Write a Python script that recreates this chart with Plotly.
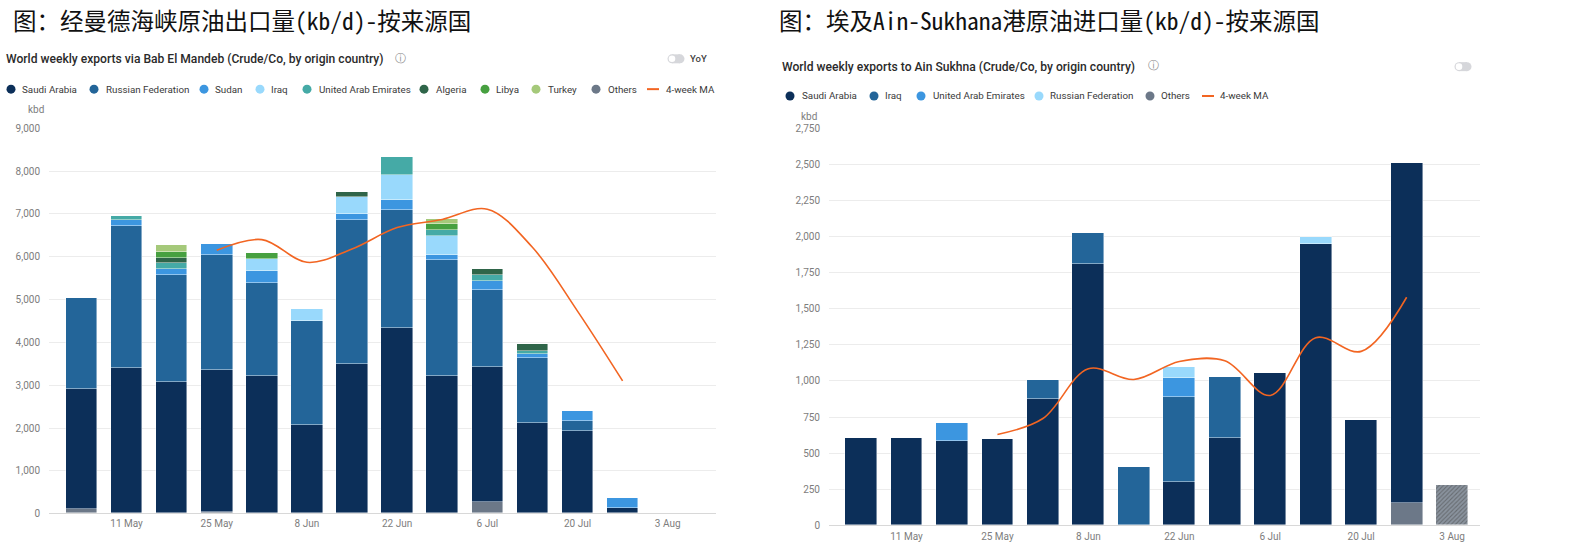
import plotly.graph_objects as go

W, H = 1580, 549

# ---------------- data: left chart (Bab El Mandeb) ----------------
weeks_left = ['2025-05-04', '2025-05-11', '2025-05-18', '2025-05-25', '2025-06-01',
              '2025-06-08', '2025-06-15', '2025-06-22', '2025-06-29', '2025-07-06',
              '2025-07-13', '2025-07-20', '2025-07-27']
others_l = [95, 0, 0, 30, 0, 0, 0, 0, 0, 270, 0, 0, 0]
saudi_l = [2805, 3390, 3080, 3330, 3200, 2060, 3480, 4340, 3200, 3160, 2110, 1920, 120]
russia_l = [2130, 3320, 2490, 2680, 2170, 2440, 3370, 2750, 2710, 1790, 1530, 240, 0]
sudan_l = [0, 130, 140, 245, 280, 0, 140, 230, 130, 200, 90, 230, 235]
iraq_l = [0, 0, 0, 0, 280, 280, 400, 590, 430, 0, 0, 0, 0]
uae_l = [0, 115, 135, 0, 0, 0, 0, 410, 150, 150, 70, 0, 0]
algeria_l = [0, 0, 125, 0, 0, 0, 110, 0, 0, 140, 160, 0, 0]
libya_l = [0, 0, 145, 0, 140, 0, 0, 0, 130, 0, 0, 0, 0]
turkey_l = [0, 0, 155, 0, 0, 0, 0, 0, 120, 0, 0, 0, 0]
ma_dates_l = ['2025-05-25', '2025-06-01', '2025-06-08', '2025-06-15', '2025-06-22',
              '2025-06-29', '2025-07-06', '2025-07-13', '2025-07-20', '2025-07-27']
ma_l = [6150, 6400, 5870, 6180, 6680, 6870, 7110, 6220, 4730, 3100]

# ---------------- data: right chart (Ain Sukhna) ----------------
weeks_right = ['2025-05-04', '2025-05-11', '2025-05-18', '2025-05-25', '2025-06-01',
               '2025-06-08', '2025-06-15', '2025-06-22', '2025-06-29', '2025-07-06',
               '2025-07-13', '2025-07-20', '2025-07-27', '2025-08-03']
others_r = [0, 0, 0, 0, 0, 0, 0, 0, 0, 0, 0, 0, 155, 280]
saudi_r = [605, 605, 580, 595, 870, 1810, 0, 300, 605, 1055, 1945, 730, 2355, 0]
iraq_r = [0, 0, 0, 0, 135, 215, 405, 585, 420, 0, 0, 0, 0, 0]
uae_r = [0, 0, 130, 0, 0, 0, 0, 135, 0, 0, 0, 0, 0, 0]
russia_r = [0, 0, 0, 0, 0, 0, 0, 75, 0, 0, 50, 0, 0, 0]
ma_dates_r = ['2025-05-25', '2025-06-01', '2025-06-08', '2025-06-15', '2025-06-22',
              '2025-06-29', '2025-07-06', '2025-07-13', '2025-07-20', '2025-07-27']
ma_r = [630, 740, 1085, 1010, 1135, 1140, 900, 1300, 1205, 1580]

tick_dates = ['2025-05-11', '2025-05-25', '2025-06-08', '2025-06-22', '2025-07-06',
              '2025-07-20', '2025-08-03']
tick_labels = ['11 May', '25 May', '8 Jun', '22 Jun', '6 Jul', '20 Jul', '3 Aug']

# ---------------- styles ----------------
C_SAUDI = '#0c2f59'
C_MID = '#236599'
C_BRIGHT = '#3c96e0'
C_LIGHT = '#99d9fc'
C_TEAL = '#45aaa6'
C_ALG = '#2f6549'
C_LIBYA = '#47a040'
C_TURKEY = '#a5c97a'
C_OTHERS = '#6c7888'
C_MA = '#f26522'

FONT = 'Roboto, Arial, sans-serif'
CJK = 'Noto Sans Mono CJK SC, Noto Sans CJK SC, sans-serif'
BAR_W = 4.9 * 86400000
LINE = dict(color='rgba(255,255,255,0.55)', width=0.8)


def px_x(v):
    return v / W


def px_y(v):
    return 1 - v / H


def nz(vals):
    return [v if v else None for v in vals]


fig = go.Figure()

left_series = [
    ('Others', others_l, C_OTHERS), ('Saudi Arabia', saudi_l, C_SAUDI),
    ('Russian Federation', russia_l, C_MID), ('Sudan', sudan_l, C_BRIGHT),
    ('Iraq', iraq_l, C_LIGHT), ('United Arab Emirates', uae_l, C_TEAL),
    ('Algeria', algeria_l, C_ALG), ('Libya', libya_l, C_LIBYA), ('Turkey', turkey_l, C_TURKEY),
]
for name, vals, col in left_series:
    fig.add_trace(go.Bar(x=weeks_left, y=nz(vals), name=name, marker_color=col,
                         marker_line=LINE, width=BAR_W, xaxis='x', yaxis='y',
                         showlegend=False))
fig.add_trace(go.Scatter(x=ma_dates_l, y=ma_l, mode='lines', name='4-week MA',
                         line=dict(color=C_MA, width=1.6, shape='spline', smoothing=1.0),
                         xaxis='x', yaxis='y', showlegend=False))

n_r = len(weeks_right)
others_colors = [C_OTHERS] * (n_r - 1) + ['#8a939e']
others_pattern = [''] * (n_r - 1) + ['/']
fig.add_trace(go.Bar(x=weeks_right, y=nz(others_r), name='Others',
                     marker=dict(color=others_colors, line=LINE,
                                 pattern=dict(shape=others_pattern, fgcolor='#6f7a87',
                                              size=3, solidity=0.35)),
                     width=BAR_W, xaxis='x2', yaxis='y2', showlegend=False))
right_series = [
    ('Saudi Arabia', saudi_r, C_SAUDI), ('Iraq', iraq_r, C_MID),
    ('United Arab Emirates', uae_r, C_BRIGHT), ('Russian Federation', russia_r, C_LIGHT),
]
for name, vals, col in right_series:
    fig.add_trace(go.Bar(x=weeks_right, y=nz(vals), name=name, marker_color=col,
                         marker_line=LINE, width=BAR_W, xaxis='x2', yaxis='y2',
                         showlegend=False))
fig.add_trace(go.Scatter(x=ma_dates_r, y=ma_r, mode='lines', name='4-week MA',
                         line=dict(color=C_MA, width=1.6, shape='spline', smoothing=1.0),
                         xaxis='x2', yaxis='y2', showlegend=False))

axis_x_common = dict(type='date', tickvals=tick_dates, ticktext=tick_labels,
                     showgrid=False, zeroline=False, showline=False, ticks='',
                     tickfont=dict(family=FONT, size=10, color='#7d7d7d'), fixedrange=True)
axis_y_common = dict(showgrid=True, gridcolor='#ececec', gridwidth=1, zeroline=True,
                     zerolinecolor='#d8d8d8', zerolinewidth=1, showline=False, ticks='',
                     tickformat=',', ticklabelstandoff=8, fixedrange=True,
                     tickfont=dict(family=FONT, size=10, color='#7d7d7d'))

fig.update_layout(
    width=W, height=H, barmode='stack', bargap=0,
    paper_bgcolor='white', plot_bgcolor='white',
    margin=dict(l=0, r=0, t=0, b=0),
    showlegend=False,
    font=dict(family=FONT),
    xaxis=dict(axis_x_common, domain=[px_x(49), px_x(716)], anchor='y',
               range=['2025-04-28 23:00', '2025-08-10 12:00'], ticklabelstandoff=2),
    yaxis=dict(axis_y_common, domain=[px_y(519), px_y(125)], anchor='x',
               range=[0, 9000], dtick=1000),
    xaxis2=dict(axis_x_common, domain=[px_x(829), px_x(1480)], anchor='y2',
                range=['2025-04-29 01:40', '2025-08-07 07:00'], ticklabelstandoff=4),
    yaxis2=dict(axis_y_common, domain=[px_y(531), px_y(125)], anchor='x2',
                range=[0, 2750], dtick=250),
)

ann = []
shapes = []


def text(x, y, s, size, color='#333', family=FONT, weight=None, xanchor='left'):
    f = dict(family=family, size=size, color=color)
    if weight:
        f['weight'] = weight
    ann.append(dict(x=px_x(x), y=px_y(y), xref='paper', yref='paper', text=s,
                    showarrow=False, xanchor=xanchor, yanchor='middle', font=f))


def dot(cx, cy, color, r=4.5):
    shapes.append(dict(type='circle', xref='paper', yref='paper', xsizemode='pixel',
                       ysizemode='pixel', xanchor=px_x(cx), yanchor=px_y(cy),
                       x0=-r, x1=r, y0=-r, y1=r, fillcolor=color, line=dict(width=0)))


def toggle(x, y):
    shapes.append(dict(type='rect', xref='paper', yref='paper', xsizemode='pixel',
                       ysizemode='pixel', xanchor=px_x(x), yanchor=px_y(y),
                       x0=-4, x1=4, y0=-4.5, y1=4.5, fillcolor='#d6d7db', line=dict(width=0)))
    for dx in (-4, 4):
        dot(x + dx, y, '#d6d7db', r=4.5)
    dot(x - 4, y, 'white', r=3.3)


# titles
text(11, 14, '图：经曼德海峡原油出口量(kb/d)-按来源国', 23.5, color='#111', family=CJK)
text(777, 14, '图：埃及Ain-Sukhana港原油进口量(kb/d)-按来源国', 23.5, color='#111', family=CJK)

# subtitles
text(4, 54, 'World weekly exports via Bab El Mandeb (Crude/Co, by origin country)', 12.1,
     color='#2a2a2a', weight=500)
text(400, 54, 'ⓘ', 11, color='#8a8a8a', xanchor='center')
text(780, 62, 'World weekly exports to Ain Sukhna (Crude/Co, by origin country)', 12.1,
     color='#2a2a2a', weight=500)
text(1153, 61, 'ⓘ', 11, color='#8a8a8a', xanchor='center')
toggle(676, 54)
text(688, 54, 'YoY', 9.5, color='#444', weight=500)
toggle(1463, 62)

# legends
legend_left = [
    ('Saudi Arabia', C_SAUDI, 11, 20), ('Russian Federation', C_MID, 94, 104),
    ('Sudan', C_BRIGHT, 204, 213), ('Iraq', C_LIGHT, 260, 269),
    ('United Arab Emirates', C_TEAL, 307, 317), ('Algeria', C_ALG, 424, 434),
    ('Libya', C_LIBYA, 485, 494), ('Turkey', C_TURKEY, 536, 546), ('Others', C_OTHERS, 596, 606),
]
for label, col, cx, tx in legend_left:
    dot(cx, 85, col)
    text(tx, 85, label, 9.8, color='#3a3a3a')
shapes.append(dict(type='line', xref='paper', yref='paper', x0=px_x(647), x1=px_x(659),
                   y0=px_y(85), y1=px_y(85), line=dict(color=C_MA, width=2)))
text(664, 85, '4-week MA', 9.8, color='#3a3a3a')

legend_right = [
    ('Saudi Arabia', C_SAUDI, 790, 800), ('Iraq', C_MID, 874, 883),
    ('United Arab Emirates', C_BRIGHT, 921, 931), ('Russian Federation', C_LIGHT, 1039, 1048),
    ('Others', C_OTHERS, 1150, 1159),
]
for label, col, cx, tx in legend_right:
    dot(cx, 92, col)
    text(tx, 92, label, 9.8, color='#3a3a3a')
shapes.append(dict(type='line', xref='paper', yref='paper', x0=px_x(1202), x1=px_x(1214),
                   y0=px_y(92), y1=px_y(92), line=dict(color=C_MA, width=2)))
text(1218, 92, '4-week MA', 9.8, color='#3a3a3a')

# unit labels
text(36, 106, 'kbd', 10, color='#7d7d7d', xanchor='center')
text(809, 113, 'kbd', 10, color='#7d7d7d', xanchor='center')

fig.update_layout(annotations=ann, shapes=shapes)
fig.write_html('out.html', config={'displayModeBar': False},
               post_script="document.body.style.margin='0';")
